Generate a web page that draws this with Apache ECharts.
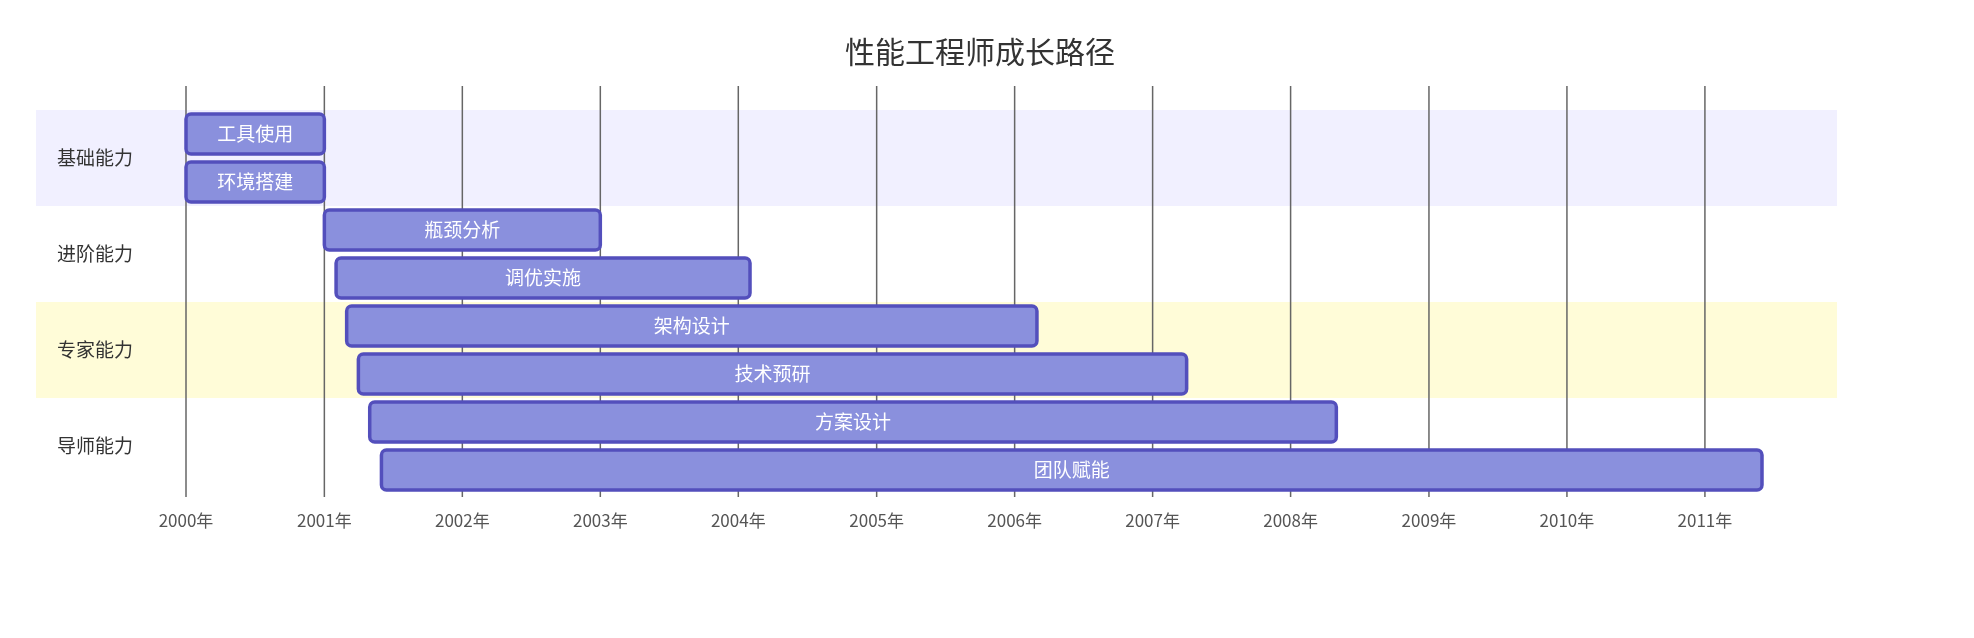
<!DOCTYPE html>
<html><head><meta charset="utf-8">
<script src="https://cdn.jsdelivr.net/npm/echarts@6/dist/echarts.min.js"></script>
<style>html,body{margin:0;padding:0;background:#fff}#main{width:1974px;height:638px}</style>
</head><body><div id="main"></div>
<script>
var taskNames = ['工具使用', '环境搭建', '瓶颈分析', '调优实施', '架构设计', '技术预研', '方案设计', '团队赋能'];
var taskStarts = ['2000-01-01', '2000-01-01', '2001-01-01', '2001-02-01', '2001-03-01', '2001-04-01', '2001-05-01', '2001-06-01'];
var taskEnds = ['2001-01-01', '2001-01-01', '2003-01-01', '2004-02-01', '2006-03-01', '2007-04-01', '2008-05-01', '2011-06-01'];
var sections = ['基础能力', '进阶能力', '专家能力', '导师能力'];
var sectionColors = ['#f1f0ff', '#ffffff', '#fffcd8', '#ffffff'];
var tickYears = ['2000', '2001', '2002', '2003', '2004', '2005', '2006', '2007', '2008', '2009', '2010', '2011'];

var font = '"Noto Sans CJK SC", "Noto Sans", sans-serif';
var chart = echarts.init(document.getElementById('main'));

var taskData = taskNames.map(function (n, i) {
  return [i, taskStarts[i], taskEnds[i], n];
});
var sectionData = sections.map(function (s, i) { return [i, s]; });
var tickData = tickYears.map(function (y) { return [y + '-01-01']; });

var option = {
  title: {
    text: '性能工程师成长路径',
    left: 975, top: 32, textAlign: 'center',
    textStyle: { fontFamily: font, fontSize: 30, fontWeight: 'normal', color: '#333' }
  },
  grid: { left: 186, right: 212, top: 110, height: 384 },
  xAxis: {
    type: 'time',
    min: '2000-01-01', max: '2011-06-01',
    minInterval: 365 * 24 * 3600 * 1000,
    maxInterval: 366 * 24 * 3600 * 1000,
    axisLine: { show: false },
    axisTick: { show: false },
    splitLine: { show: false },
    axisLabel: {
      formatter: '{yyyy}年', margin: 18, color: '#555',
      fontFamily: font, fontSize: 17, showMaxLabel: false
    }
  },
  yAxis: {
    type: 'category', inverse: true, data: taskNames, show: false
  },
  series: [
    {
      type: 'custom', silent: true, clip: false, z: 1,
      data: sectionData,
      renderItem: function (params, api) {
        var i = api.value(0);
        var yTop = api.coord([0, i * 2])[1] - api.size([0, 1])[1] / 2;
        var h = api.size([0, 1])[1] * 2;
        return {
          type: 'group',
          children: [
            { type: 'rect', shape: { x: 36, y: yTop, width: 1801, height: h },
              style: { fill: sectionColors[i] } },
            { type: 'text', style: { x: 57, y: yTop + h / 2, text: sections[i],
              fill: '#333', font: '19px ' + font, verticalAlign: 'middle' } }
          ]
        };
      }
    },
    {
      type: 'custom', silent: true, clip: false, z: 2,
      data: tickData,
      renderItem: function (params, api) {
        var x = api.coord([api.value(0), 0])[0];
        return { type: 'line', shape: { x1: x, y1: 86, x2: x, y2: 497 },
          style: { stroke: '#666', lineWidth: 1.5 } };
      }
    },
    {
      type: 'custom', clip: false, z: 3,
      data: taskData,
      encode: { x: [1, 2], y: 0 },
      renderItem: function (params, api) {
        var s = api.coord([api.value(1), api.value(0)]);
        var e = api.coord([api.value(2), api.value(0)]);
        var h = 40;
        return {
          type: 'group',
          children: [
            { type: 'rect',
              shape: { x: s[0], y: s[1] - h / 2, width: e[0] - s[0], height: h, r: 5 },
              style: { fill: '#8a90dd', stroke: '#534fbc', lineWidth: 3.5 } },
            { type: 'text', style: { x: (s[0] + e[0]) / 2, y: s[1], text: taskNames[params.dataIndex],
              fill: '#fff', font: '19px ' + font, align: 'center', verticalAlign: 'middle' } }
          ]
        };
      }
    }
  ]
};
chart.setOption(option);
</script>
</body></html>
